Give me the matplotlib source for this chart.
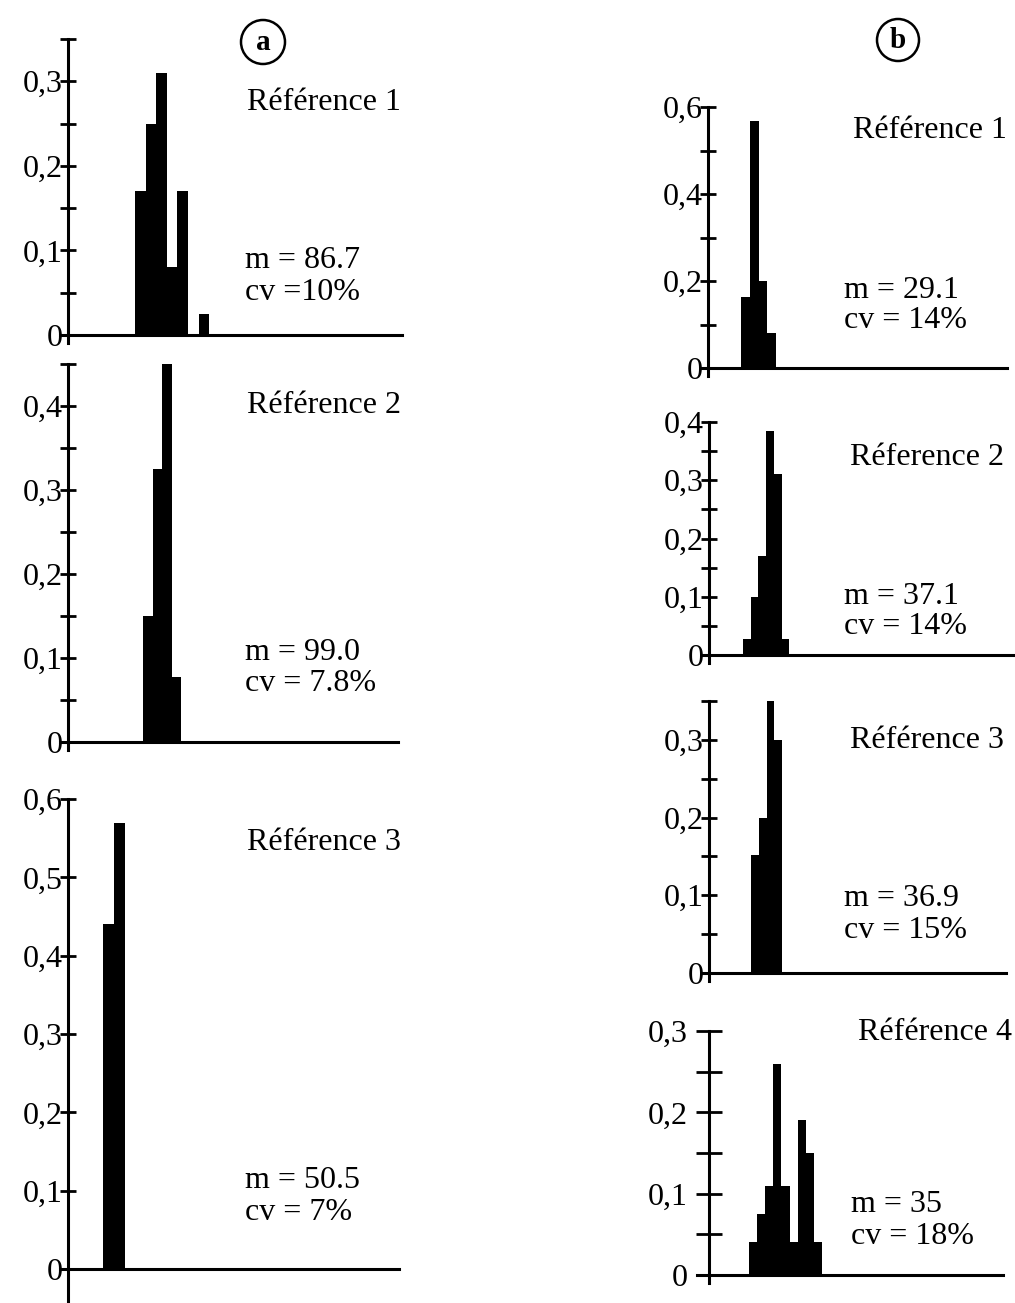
import numpy as np
import matplotlib
matplotlib.use('Agg')
import matplotlib.pyplot as plt
from matplotlib.patches import Circle

plt.rcParams['font.family'] = ['Liberation Serif', 'DejaVu Serif']

W, H = 1015, 1303

# frequences relatives par classe
freq_a1 = [0.17, 0.25, 0.31, 0.08, 0.17, 0.0, 0.025]
freq_a2 = [0.15, 0.325, 0.45, 0.077]
freq_a3 = [0.44, 0.57]
freq_b1 = [0.163, 0.568, 0.2, 0.08]
freq_b2 = [0.028, 0.1, 0.17, 0.385, 0.31, 0.028]
freq_b3 = [0.152, 0.2, 0.35, 0.3]
freq_b4 = [0.04, 0.075, 0.11, 0.26, 0.11, 0.04, 0.19, 0.15, 0.04]

titres_a = ['Référence 1', 'Référence 2', 'Référence 3']
titres_b = ['Référence 1', 'Réference 2', 'Référence 3', 'Référence 4']

stats_a = [('m = 86.7', 'cv =10%'), ('m = 99.0', 'cv = 7.8%'), ('m = 50.5', 'cv = 7%')]
stats_b = [('m = 29.1', 'cv = 14%'), ('m = 37.1', 'cv = 14%'),
           ('m = 36.9', 'cv = 15%'), ('m = 35', 'cv = 18%')]

fig = plt.figure(figsize=(W / 100, H / 100), dpi=100)
fig.patch.set_facecolor('white')


def fx(x):
    return x / W


def fy(y):
    return 1 - y / H


def fmt(t):
    if t == 0:
        return '0'
    return ('%.1f' % t).replace('.', ',')


def panel(freqs, ytop, tick_step, label_step, box, ticklen=12, pad=-2):
    # box : axe x, ligne de base, haut, fin de l'axe, 1ere classe, largeur classe, debords
    axis_x, base_y, top_y, x_end, bar0, bw, ov_x, ov_y = box
    left = axis_x - ov_x
    ax = fig.add_axes([fx(left), fy(base_y + ov_y),
                       (x_end - left) / W, (base_y + ov_y - top_y) / H])
    ppu = (base_y - top_y) / ytop
    xa = -(bar0 - axis_x) / bw
    ax.set_xlim(xa - ov_x / bw, xa + (x_end - axis_x) / bw)
    ax.set_ylim(-ov_y / ppu, ytop)
    ax.bar(np.arange(len(freqs)), freqs, width=1, align='edge',
           color='black', linewidth=0)
    for s in ['top', 'right']:
        ax.spines[s].set_visible(False)
    ax.spines['left'].set_position(('data', xa))
    ax.spines['bottom'].set_position(('data', 0))
    for s in ['left', 'bottom']:
        ax.spines[s].set_linewidth(2.2)
    ticks = np.round(np.arange(0, ytop + 1e-9, tick_step), 3)
    labs = []
    for t in ticks:
        k = t / label_step
        labs.append(fmt(t) if abs(k - round(k)) < 1e-6 else '')
    ax.set_yticks(ticks)
    ax.set_yticklabels(labs)
    ax.tick_params(axis='y', direction='inout', length=ticklen, width=2,
                   pad=pad, labelsize=23)
    ax.set_xticks([])
    ax.patch.set_visible(False)
    return ax


# colonne a
panel(freq_a1, 0.35, 0.05, 0.1, (68, 335, 39, 402, 135, 10.6, 8, 8))
panel(freq_a2, 0.45, 0.05, 0.1, (68, 742, 364, 398, 143, 9.5, 8, 8))
panel(freq_a3, 0.6, 0.1, 0.1, (68, 1269, 799, 399, 103, 11, 8, 34))

# colonne b
panel(freq_b1, 0.6, 0.1, 0.2, (708, 368, 107, 1007, 741, 8.75, 6, 8))
panel(freq_b2, 0.4, 0.05, 0.1, (709, 655, 422, 1013, 743, 7.7, 6, 8))
panel(freq_b3, 0.35, 0.05, 0.1, (709, 973, 701, 1006, 751, 7.75, 6, 8))
panel(freq_b4, 0.3, 0.05, 0.1, (709, 1275, 1031, 1003, 749, 8.1, 12, 8),
      ticklen=19, pad=6)

txt = dict(fontsize=23, ha='left', va='center')

titre_pos_a = [(247, 103), (247, 405), (247, 842)]
stat_pos_a = [(245, 260), (245, 652), (245, 1180)]
for t, (x, y) in zip(titres_a, titre_pos_a):
    fig.text(fx(x), fy(y), t, **txt)
for (m, cv), (x, y) in zip(stats_a, stat_pos_a):
    fig.text(fx(x), fy(y), m, **txt)
    fig.text(fx(x), fy(y + 32), cv, **txt)

titre_pos_b = [(853, 131), (850, 457), (850, 740), (858, 1032)]
stat_pos_b = [(844, 290), (844, 596), (844, 899), (851, 1205)]
for t, (x, y) in zip(titres_b, titre_pos_b):
    fig.text(fx(x), fy(y), t, **txt)
for (m, cv), (x, y) in zip(stats_b, stat_pos_b):
    fig.text(fx(x), fy(y), m, **txt)
    fig.text(fx(x), fy(y + 31), cv, **txt)

# lettres cerclees
for lettre, (x, y, r) in [('a', (263, 42, 22)), ('b', (898, 40, 21))]:
    fig.add_artist(Circle((x / 100, (H - y) / 100), r / 100,
                          transform=fig.dpi_scale_trans, fill=False,
                          lw=1.8, ec='black'))
    fig.text(fx(x), fy(y + 1), lettre, fontsize=21, weight='bold',
             ha='center', va='center')

fig.savefig('out.png', dpi=100, facecolor='white')
